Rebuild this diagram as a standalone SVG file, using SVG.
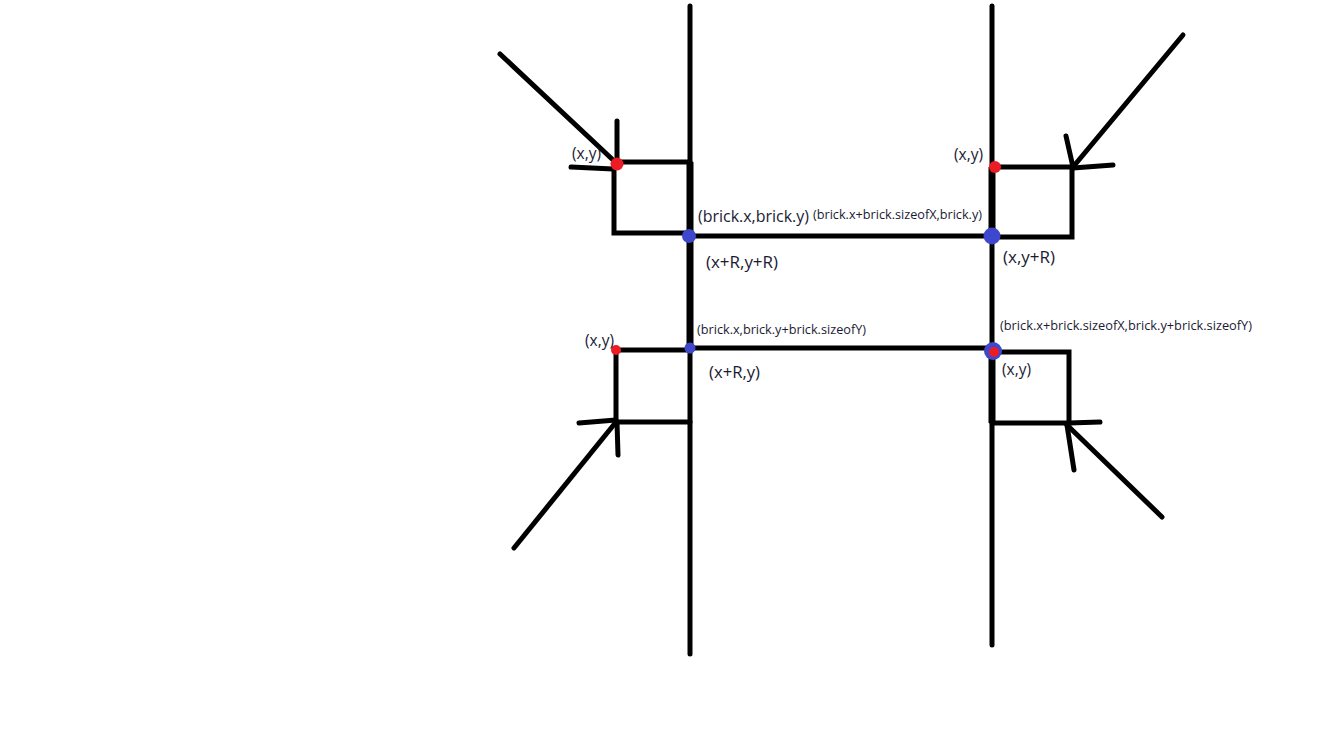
<svg xmlns="http://www.w3.org/2000/svg" width="1333" height="743" viewBox="0 0 1333 743">
<style>
.ln{stroke:#000;stroke-width:5;fill:none;stroke-linecap:round;stroke-linejoin:miter}
.th{stroke:#000;stroke-width:7;fill:none}
.red{fill:#ed1c24}
.blue{fill:#3f48cc}
text{font-family:"Open Sans","Noto Sans","Liberation Sans",sans-serif;fill:#1a1a33}
.l{font-size:15.5px}
.b{font-size:16px}
.s{font-size:12px}
</style>
<rect width="1333" height="743" fill="#fff"/>
<g id="walls">
<line class="ln" x1="690" y1="6" x2="690" y2="654"/>
<line class="ln" x1="992" y1="6" x2="992" y2="645"/>
<line class="th" x1="690" y1="162" x2="690" y2="348"/>
<line class="th" x1="992" y1="167" x2="992" y2="237"/>
<line class="th" x1="992" y1="348" x2="992" y2="423"/>
<line class="ln" x1="690" y1="236" x2="992" y2="236"/>
<line class="ln" x1="690" y1="348" x2="992" y2="348"/>
</g>
<g id="top-left">
<polyline class="ln" points="617,162 690,162"/>
<polyline class="ln" points="614,164 614,233 690,233"/>
<line class="ln" x1="617" y1="121" x2="617" y2="163"/>
<line class="ln" x1="571" y1="167" x2="613" y2="169"/>
<line class="ln" x1="500" y1="54" x2="612" y2="159"/>
<circle class="red" cx="617" cy="164" r="6.5"/>
<circle class="blue" cx="689" cy="236" r="7"/>
<text class="l" x="572" y="159" textLength="29" lengthAdjust="spacingAndGlyphs">(x,y)</text>
</g>
<g id="top-right">
<polyline class="ln" points="995,167 1072,167 1072,237 992,237"/>
<line class="ln" x1="1183" y1="35" x2="1073" y2="167"/>
<line class="ln" x1="1066" y1="136" x2="1073" y2="167"/>
<line class="ln" x1="1073" y1="168" x2="1113" y2="165"/>
<circle class="red" cx="995" cy="167" r="6"/>
<circle class="blue" cx="992" cy="236" r="8.5"/>
<text class="l" x="954" y="160" textLength="29" lengthAdjust="spacingAndGlyphs">(x,y)</text>
</g>
<g id="bottom-left">
<polyline class="ln" points="616,350 690,350"/>
<polyline class="ln" points="616,350 616,422 690,422"/>
<line class="ln" x1="579" y1="423" x2="616" y2="420"/>
<line class="ln" x1="617" y1="422" x2="618" y2="455"/>
<line class="ln" x1="514" y1="548" x2="616" y2="422"/>
<circle class="red" cx="616" cy="350" r="5"/>
<circle class="blue" cx="690" cy="348" r="5.5"/>
<text class="l" x="585" y="346" textLength="29" lengthAdjust="spacingAndGlyphs">(x,y)</text>
</g>
<g id="bottom-right">
<polyline class="ln" points="993,352 1069,352 1069,423 992,423"/>
<line class="ln" x1="1069" y1="423" x2="1100" y2="422"/>
<line class="ln" x1="1067" y1="425" x2="1074" y2="470"/>
<line class="ln" x1="1067" y1="425" x2="1162" y2="517"/>
<circle class="blue" cx="993" cy="351" r="9"/>
<circle class="red" cx="994" cy="352" r="5"/>
<text class="l" x="1002" y="375" textLength="29" lengthAdjust="spacingAndGlyphs">(x,y)</text>
</g>
<g id="labels">
<text class="b" x="698" y="222" textLength="111" lengthAdjust="spacingAndGlyphs">(brick.x,brick.y)</text>
<text class="s" x="813" y="219" textLength="169" lengthAdjust="spacingAndGlyphs">(brick.x+brick.sizeofX,brick.y)</text>
<text class="l" x="706" y="268" textLength="72" lengthAdjust="spacingAndGlyphs">(x+R,y+R)</text>
<text class="l" x="1003" y="263" textLength="52" lengthAdjust="spacingAndGlyphs">(x,y+R)</text>
<text class="s" x="697" y="334" textLength="169" lengthAdjust="spacingAndGlyphs">(brick.x,brick.y+brick.sizeofY)</text>
<text class="l" x="709" y="378" textLength="51" lengthAdjust="spacingAndGlyphs">(x+R,y)</text>
<text class="s" x="1000" y="330" textLength="252" lengthAdjust="spacingAndGlyphs">(brick.x+brick.sizeofX,brick.y+brick.sizeofY)</text>
</g>
</svg>
